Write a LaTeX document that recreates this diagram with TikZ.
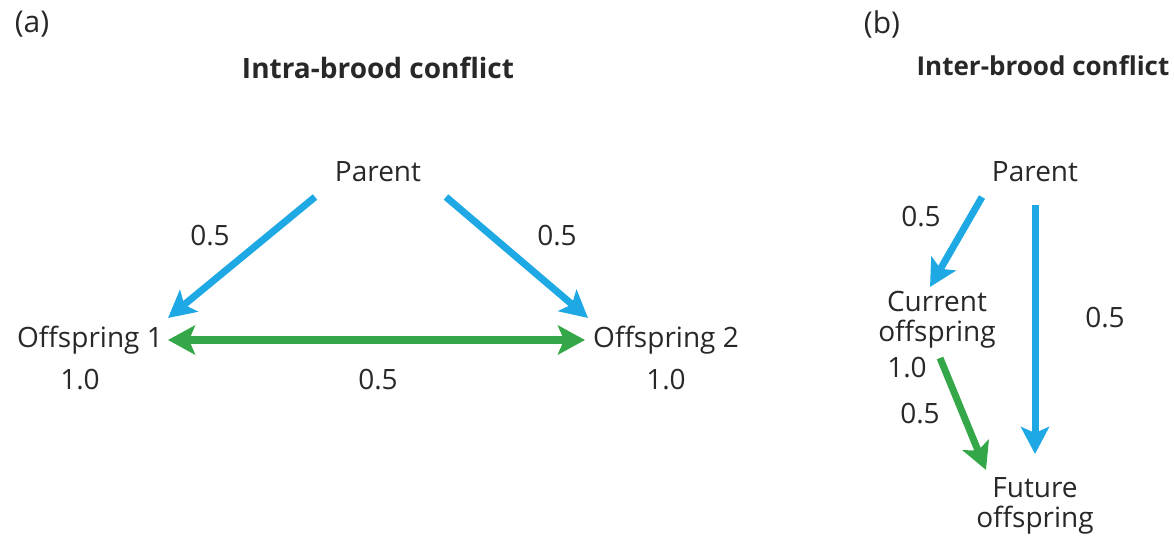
\documentclass[tikz,border=0pt]{standalone}
\usepackage{fontspec}
\setmainfont{Open Sans}
\usetikzlibrary{arrows.meta}
\definecolor{arrblue}{RGB}{30,168,228}
\definecolor{arrgreen}{RGB}{52,168,72}
\definecolor{txt}{RGB}{40,40,40}
\begin{document}
\begin{tikzpicture}[x=1pt,y=-1pt,
  lbl/.style={text=txt,font=\fontsize{28}{30}\selectfont,inner sep=0pt},
  pnl/.style={text=txt,font=\fontsize{30}{32}\selectfont,inner sep=0pt},
  ttl/.style={text=txt,font=\fontsize{28}{30}\selectfont\bfseries,inner sep=0pt},
  ttlb/.style={text=txt,font=\fontsize{26}{30}\selectfont\bfseries,inner sep=0pt},
  blu/.style={draw=arrblue,line width=7pt,-{Stealth[length=27pt,width=28pt,inset=6pt]}},
  grn/.style={draw=arrgreen,line width=8pt,{Stealth[length=27pt,width=29pt,inset=6pt]}-{Stealth[length=27pt,width=29pt,inset=6pt]}},
  grn1/.style={draw=arrgreen,line width=7pt,-{Stealth[length=27pt,width=28pt,inset=6pt]}}]
\useasboundingbox (0,0) rectangle (1174,536);
% panel (a)
\node[pnl] (la) at (32,24) {(a)};
\node[ttl] (ta) at (378,68) {Intra-brood conflict};
\node[lbl] (pa) at (378,172) {Parent};
\node[lbl] (o1) at (90,340) {Offspring 1};
\node[lbl] (o2) at (666,340) {Offspring 2};
\node[lbl] (w1) at (80,380) {1.0};
\node[lbl] (w2) at (666,380) {1.0};
\node[lbl] (r1) at (210,236) {0.5};
\node[lbl] (r2) at (557,236) {0.5};
\node[lbl] (r3) at (378,380) {0.5};
\coordinate (s1) at (315,197);
\coordinate (e1) at (168,318);
\coordinate (s2) at (446,197);
\coordinate (e2) at (588,318);
\coordinate (g1) at (168,340);
\coordinate (g2) at (585,340);
\draw[blu] (s1) -- (e1);
\draw[blu] (s2) -- (e2);
\draw[grn] (g1) -- (g2);
% panel (b)
\node[pnl] (lb) at (882,24) {(b)};
\node[ttlb] (tb) at (1043,66) {Inter-brood conflict};
\node[lbl] (pb) at (1035,172) {Parent};
\node[lbl,align=center] (co) at (937,320) {Current\\offspring};
\node[lbl,align=center] (fo) at (1035,506) {Future\\offspring};
\node[lbl] (b1) at (921,217) {0.5};
\node[lbl] (b2) at (1105,318) {0.5};
\node[lbl] (b3) at (907,368) {1.0};
\node[lbl] (b4) at (920,414) {0.5};
\coordinate (s3) at (982,197);
\coordinate (e3) at (930,287);
\coordinate (s4) at (1035,205);
\coordinate (e4) at (1035,454);
\coordinate (s5) at (940,358);
\coordinate (e5) at (986,470);
\draw[blu] (s3) -- (e3);
\draw[blu] (s4) -- (e4);
\draw[grn1] (s5) -- (e5);
\end{tikzpicture}
\end{document}
